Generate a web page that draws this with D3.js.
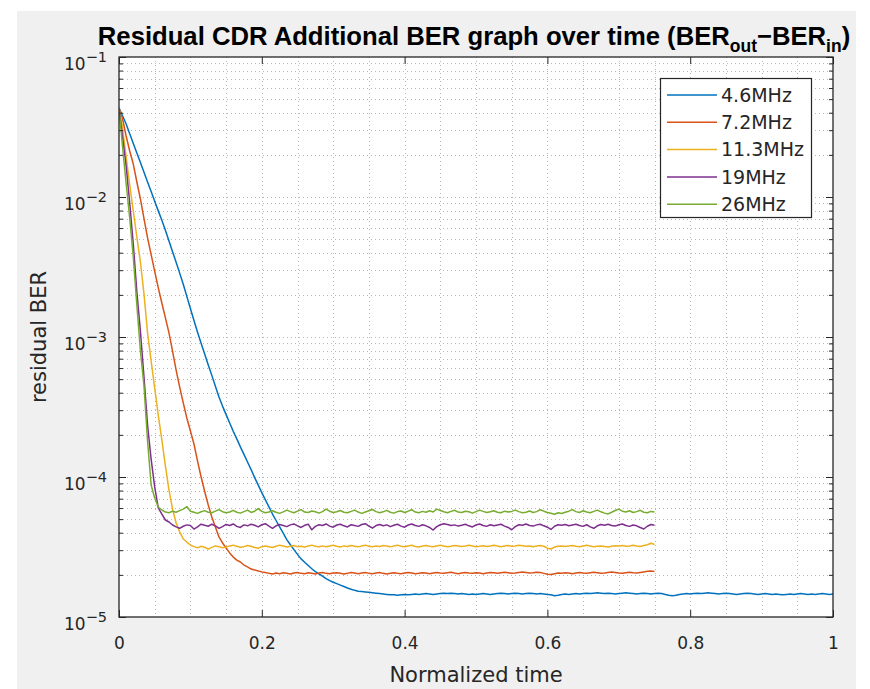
<!DOCTYPE html>
<html><head><meta charset="utf-8">
<script src="https://cdn.jsdelivr.net/npm/d3@7"></script>
<style>body{margin:0;background:#fff;} svg{display:block;}</style>
</head><body>
<svg id="chart" width="870" height="689"></svg>
<script>
// ---------- DATA ----------
const timeStep = 0.005;            // normalized-time sampling interval of every series
const berUnit = 1e-5;              // values below are in units of 1e-5
const seriesNames = ["4.6MHz", "7.2MHz", "11.3MHz", "19MHz", "26MHz"];
const seriesColors = ["#0072BD", "#D95319", "#EDB120", "#7E2F8E", "#77AC30"];
const xTicks = [0, 0.2, 0.4, 0.6, 0.8, 1];
const xTickLabels = ["0", "0.2", "0.4", "0.6", "0.8", "1"];
const yTicks = [1e-5, 1e-4, 1e-3, 1e-2, 1e-1];
const yTickExps = ["\u22125", "\u22124", "\u22123", "\u22122", "\u22121"];

const ber46 = [4324,3802,3322,2832,2415,2059,1764,1504,1282,1096,
 933,796,681,579,485,406,342,286,238,195,
 160,131,108,90.2,75.5,63.2,53.2,44.5,37.3,32.1,
 27.9,24.3,21.2,18.7,16.4,14.5,12.8,11.3,9.90,8.75,
 7.74,6.87,6.12,5.44,4.89,4.40,3.97,3.57,3.28,3.03,
 2.80,2.60,2.46,2.33,2.21,2.11,2.03,1.96,1.88,1.82,
 1.77,1.73,1.69,1.65,1.61,1.58,1.55,1.53,1.52,1.51,
 1.50,1.49,1.48,
 1.47,1.46,1.45,1.44,1.44,1.43,1.44,1.45,1.44,1.45,
 1.46,1.45,1.46,1.47,1.46,1.45,1.46,1.47,1.48,1.47,
 1.48,1.47,1.46,1.47,1.46,1.45,1.46,1.45,1.46,1.47,
 1.46,1.45,1.46,1.47,1.48,1.47,1.46,1.47,1.48,1.47,
 1.46,1.47,1.48,1.47,1.46,1.47,1.46,1.45,1.44,1.42,
 1.43,1.45,1.46,1.45,1.46,1.47,1.46,1.47,1.48,1.47,
 1.48,1.49,1.48,1.47,1.48,1.47,1.46,1.47,1.48,1.49,
 1.48,1.47,1.46,1.47,1.48,1.47,1.46,1.47,1.48,1.47,
 1.45,1.43,1.42,1.43,1.45,1.46,1.47,1.46,1.47,1.48,
 1.47,1.48,1.49,1.48,1.47,1.46,1.47,1.48,1.47,1.46,
 1.45,1.46,1.47,1.48,1.47,1.46,1.45,1.46,1.47,1.46,
 1.45,1.46,1.45,1.44,1.45,1.46,1.45,1.46,1.47,1.46,
 1.45,1.46,1.45,1.46,1.47,1.46,1.45,1.46];

const ber72 = [4324,3607,2727,2131,1720,1280,968,702,510,388,
 294,224,175,137,107,79.4,58.1,43.9,33.8,26.4,
 21.3,17.2,13.0,10.0,7.88,6.31,5.18,4.39,3.73,3.38,
 3.11,2.87,2.68,2.55,2.47,2.35,2.28,2.20,2.17,2.13,2.10,
 2.08,2.05,2.03,2.06,2.04,2.07,2.05,2.03,2.06,2.08,
 2.05,2.04,2.07,2.05,2.03,2.06,2.08,2.05,2.04,2.06,
 2.07,2.05,2.03,2.05,2.08,2.06,2.04,2.06,2.08,2.05,
 2.04,2.06,2.08,2.05,2.03,2.05,2.07,2.05,2.04,2.06,
 2.08,2.06,2.04,2.05,2.07,2.06,2.04,2.06,2.08,2.06,
 2.05,2.07,2.09,2.06,2.04,2.06,2.08,2.06,2.05,2.07,
 2.06,2.04,2.06,2.08,2.07,2.05,2.07,2.09,2.07,2.05,
 2.06,2.08,2.10,2.08,2.06,2.07,2.09,2.08,2.05,2.02,
 2.01,2.04,2.06,2.05,2.07,2.06,2.04,2.06,2.08,2.06,
 2.05,2.07,2.09,2.07,2.05,2.06,2.08,2.10,2.08,2.06,
 2.05,2.07,2.09,2.07,2.06,2.08,2.10,2.12,2.13,2.11];

const ber113 = [4324,3112,1932,1219,794,518,343,203,107,67.4,
 43.2,27.7,18.4,12.0,8.07,5.91,4.69,4.05,3.61,3.43,3.27,
 3.18,3.12,3.20,3.15,3.05,3.14,3.22,3.18,3.12,3.16,
 3.22,3.26,3.20,3.15,3.18,3.24,3.20,3.14,3.10,3.18,
 3.22,3.18,3.14,3.20,3.26,3.22,3.16,3.20,3.24,3.18,
 3.20,3.16,3.22,3.26,3.20,3.18,3.22,3.17,3.21,3.25,
 3.20,3.16,3.22,3.19,3.24,3.20,3.17,3.22,3.26,3.20,
 3.18,3.22,3.19,3.24,3.21,3.17,3.22,3.26,3.20,3.18,
 3.22,3.25,3.19,3.16,3.21,3.24,3.20,3.18,3.22,3.26,
 3.21,3.17,3.20,3.24,3.22,3.19,3.21,3.25,3.22,3.18,
 3.20,3.23,3.19,3.22,3.26,3.21,3.18,3.22,3.24,3.20,
 3.22,3.26,3.23,3.20,3.22,3.18,3.21,3.24,3.20,3.10,
 3.06,3.16,3.20,3.22,3.19,3.21,3.24,3.20,3.18,3.22,
 3.25,3.21,3.18,3.20,3.22,3.19,3.16,3.20,3.23,3.21,
 3.24,3.20,3.22,3.26,3.21,3.19,3.24,3.28,3.36,3.30];

const ber19 = [4324,2683,1665,906,462,210,110,51.8,23.5,13.4,
 8.49,6.01,5.44,4.93,4.77,4.54,4.40,
 4.30,4.45,4.55,4.50,4.25,4.40,4.60,4.52,4.45,4.60,
 4.48,4.30,4.42,4.58,4.50,4.62,4.44,4.36,4.55,4.48,
 4.60,4.52,4.40,4.56,4.64,4.46,4.30,4.48,4.58,4.50,
 4.42,4.55,4.62,4.48,4.36,4.52,4.60,4.20,4.44,4.56,
 4.50,4.62,4.46,4.38,4.54,4.60,4.48,4.40,4.56,4.50,
 4.44,4.58,4.64,4.46,4.32,4.50,4.58,4.48,4.55,4.42,
 4.52,4.60,4.46,4.38,4.54,4.62,4.50,4.44,4.56,4.48,
 4.36,4.18,4.42,4.56,4.64,4.58,4.50,4.55,4.46,4.52,
 4.60,4.48,4.40,4.54,4.62,4.50,4.44,4.56,4.48,4.54,
 4.60,4.46,4.36,4.20,4.42,4.56,4.52,4.62,4.50,4.46,
 4.55,4.60,4.48,4.38,4.22,4.45,4.56,4.52,4.58,4.48,
 4.54,4.60,4.50,4.44,4.56,4.40,4.30,4.48,4.58,4.52,
 4.60,4.50,4.46,4.56,4.62,4.50,4.44,4.54,4.48,4.36,
 4.25,4.45,4.58,4.52];

const ber26 = [4324,2276,1249,708,373,169,79.4,44.7,18.1,8.77,
 7.08,6.11,5.81,5.62,
 5.55,5.70,5.60,5.75,5.90,6.15,5.70,5.60,5.50,5.65,
 5.75,5.60,5.55,5.70,5.85,5.65,5.55,5.62,5.78,5.60,
 5.52,5.66,5.80,5.58,5.70,5.95,5.68,5.55,5.62,5.74,
 5.60,5.50,5.64,5.80,5.66,5.55,5.70,5.85,5.62,5.58,
 5.72,5.64,5.52,5.66,5.90,5.70,5.58,5.64,5.76,5.60,
 5.55,5.68,5.80,5.62,5.50,5.62,5.74,5.86,5.66,5.56,
 5.64,5.78,5.60,5.52,5.66,5.72,5.58,5.70,5.84,5.62,
 5.56,5.68,5.60,5.74,5.62,5.90,5.76,5.64,5.55,5.68,
 5.78,5.62,5.58,5.70,5.64,5.52,5.66,5.80,5.68,5.58,
 5.64,5.74,5.60,5.56,5.70,5.62,5.68,5.80,5.66,5.55,
 5.60,5.72,5.58,5.66,5.84,5.70,5.58,5.50,5.42,5.55,
 5.48,5.60,5.70,5.85,5.66,5.58,5.74,5.62,5.56,5.68,
 5.80,5.64,5.52,5.45,5.60,5.76,5.90,5.70,5.62,5.74,
 5.58,5.66,5.78,5.60,5.55,5.68,5.62];

const seriesData = [ber46, ber72, ber113, ber19, ber26];

// ---------- DRAWING ----------
const FONT = "DejaVu Sans";
const INK = "#262626";
const svg = d3.select("#chart");
const L = 119, R = 833, T = 57, B = 617;

svg.append("rect").attr("x", 17).attr("y", 11).attr("width", 839).attr("height", 678).attr("fill", "#f0f0f0");

const x = d3.scaleLinear().domain([0, 1]).range([L, R]);
const y = d3.scaleLog().domain([1e-5, 1e-1]).range([B, T]);

svg.append("rect").attr("x", L).attr("y", T).attr("width", R - L).attr("height", B - T).attr("fill", "#fff");

// grid values
const xGrid = d3.range(1, 20).map(i => i * 0.05);
const yMinor = [];
[-5, -4, -3, -2].forEach(e => { for (let m = 2; m <= 9; m++) yMinor.push(m * Math.pow(10, e)); });
const yGrid = yTicks.slice(1, 4).concat(yMinor);

const grid = svg.append("g").attr("stroke", "#9a9a9a").attr("stroke-opacity", 0.7)
  .attr("stroke-width", 1).attr("stroke-dasharray", "1,3");
xGrid.forEach(v => { const px = Math.round(x(v)) + 0.5;
  grid.append("line").attr("x1", px).attr("x2", px).attr("y1", T).attr("y2", B); });
yGrid.forEach(v => { const py = Math.round(y(v)) + 0.5;
  grid.append("line").attr("x1", L).attr("x2", R).attr("y1", py).attr("y2", py); });

// curves
svg.append("clipPath").attr("id", "plotclip").append("rect")
  .attr("x", L).attr("y", T).attr("width", R - L).attr("height", B - T);
const line = d3.line().x((d, i) => x(i * timeStep)).y(d => y(d * berUnit));
const curves = svg.append("g").attr("clip-path", "url(#plotclip)");
seriesData.forEach((s, k) => {
  curves.append("path").datum(s).attr("d", line).attr("fill", "none")
    .attr("stroke", seriesColors[k]).attr("stroke-width", 1.5).attr("stroke-linejoin", "round");
});

// axes
function styleAxis(g) { g.select(".domain").remove(); g.attr("color", INK).attr("font-family", FONT); }

const gx = svg.append("g").attr("transform", `translate(0,${B})`)
  .call(d3.axisBottom(x).tickValues(xTicks).tickSizeInner(-7).tickSizeOuter(0).tickPadding(20)
    .tickFormat((d, i) => xTickLabels[i]));
styleAxis(gx); gx.attr("font-size", 17);
gx.selectAll(".tick text").attr("fill", INK);

svg.append("g").attr("transform", `translate(0,${T})`)
  .call(d3.axisTop(x).tickValues(xTicks).tickSizeInner(-7).tickSizeOuter(0).tickFormat(""))
  .call(styleAxis);

const gy = svg.append("g").attr("transform", `translate(${L},0)`)
  .call(d3.axisLeft(y).tickValues(yTicks).tickSizeInner(-7).tickSizeOuter(0).tickPadding(12).tickFormat(() => ""));
styleAxis(gy); gy.attr("font-size", 17);
gy.selectAll(".tick text").each(function (d, i) {
  const t = d3.select(this).attr("dy", null).attr("y", 12).attr("fill", INK);
  t.append("tspan").text("10");
  t.append("tspan").attr("dy", -8).attr("font-size", 14.5).text(yTickExps[i]);
});
svg.append("g").attr("transform", `translate(${L},0)`)
  .call(d3.axisLeft(y).tickValues(yMinor).tickSizeInner(-4).tickSizeOuter(0).tickFormat(""))
  .call(styleAxis);
svg.append("g").attr("transform", `translate(${R},0)`)
  .call(d3.axisRight(y).tickValues(yTicks).tickSizeInner(-7).tickSizeOuter(0).tickFormat(""))
  .call(styleAxis);
svg.append("g").attr("transform", `translate(${R},0)`)
  .call(d3.axisRight(y).tickValues(yMinor).tickSizeInner(-4).tickSizeOuter(0).tickFormat(""))
  .call(styleAxis);

// box
svg.append("rect").attr("x", L).attr("y", T).attr("width", R - L).attr("height", B - T)
  .attr("fill", "none").attr("stroke", INK).attr("stroke-width", 1.3);

// labels
svg.append("text").attr("x", (L + R) / 2).attr("y", 682).attr("text-anchor", "middle")
  .attr("font-family", FONT).attr("font-size", 21).attr("fill", INK).text("Normalized time");
svg.append("text").attr("transform", `translate(46,${(T + B) / 2}) rotate(-90)`).attr("text-anchor", "middle")
  .attr("font-family", FONT).attr("font-size", 21).attr("fill", INK).text("residual BER");

const title = svg.append("text").attr("x", 474).attr("y", 45).attr("text-anchor", "middle")
  .attr("font-family", "Liberation Sans, Arial, sans-serif").attr("font-weight", "bold")
  .attr("font-size", 25).attr("fill", "#000");
title.append("tspan").text("Residual CDR Additional BER graph over time (BER");
title.append("tspan").attr("dy", 7).attr("font-size", 17).text("out");
title.append("tspan").attr("dy", -7).text("\u2212BER");
title.append("tspan").attr("dy", 7).attr("font-size", 17).text("in");
title.append("tspan").attr("dy", -7).text(")");
// fit the title to the width it has in the reference
const tw = title.node().getComputedTextLength();
if (tw > 0) {
  const k = 753 / tw;
  title.attr("font-size", 25 * k);
  title.selectAll("tspan").filter(function () { return d3.select(this).attr("font-size"); })
    .attr("font-size", 17 * k);
}

// legend
const leg = svg.append("g");
leg.append("rect").attr("x", 660.5).attr("y", 78.5).attr("width", 151).attr("height", 139)
  .attr("fill", "#fff").attr("stroke", INK).attr("stroke-width", 1.2);
seriesNames.forEach((n, k) => {
  const cy = 95 + k * 27.3;
  leg.append("line").attr("x1", 667).attr("x2", 717).attr("y1", cy).attr("y2", cy)
    .attr("stroke", seriesColors[k]).attr("stroke-width", 1.5);
  leg.append("text").attr("x", 721).attr("y", cy).attr("dy", "0.36em")
    .attr("font-family", FONT).attr("font-size", 19).attr("fill", INK).text(n);
});
</script>
</body></html>
